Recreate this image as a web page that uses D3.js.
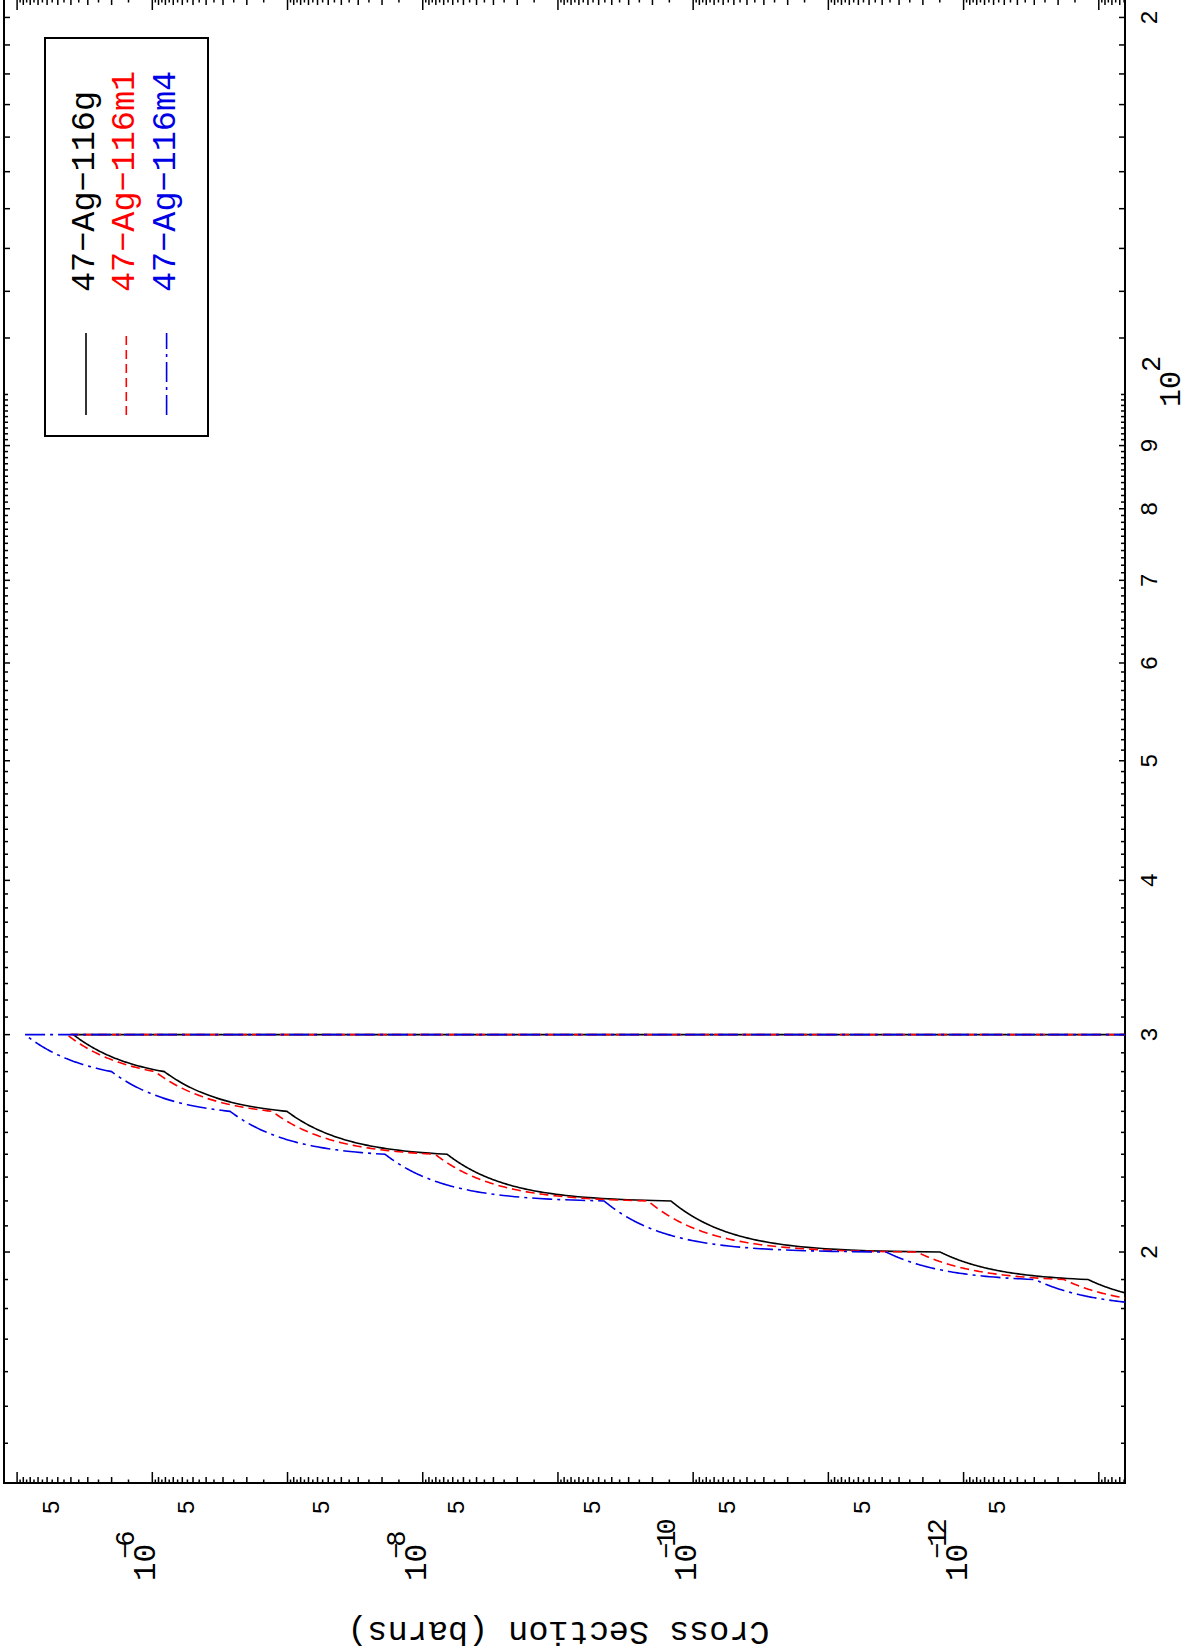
<!DOCTYPE html>
<html>
<head>
<meta charset="utf-8">
<script src="https://cdn.jsdelivr.net/npm/d3@7"></script>
<style>
  body { margin: 0; background: #fff; }
  svg { display: block; }
  text { font-family: "Liberation Mono", "DejaVu Sans Mono", monospace; }
</style>
</head>
<body>
<svg id="chart" width="1191" height="1651"></svg>
<script>
// tabulated nodes (MeV, barns); the plot joins them lin-lin on log axes
var energy  = [18, 19, 20, 22, 24, 26, 28, 30, 30];
var ag116g  = [0, 1.20e-13, 1.49e-12, 1.46e-10, 6.6e-9, 1.01e-7, 8.15e-7, 3.84e-6, 0];
var ag116m1 = [0, 1.81e-13, 2.21e-12, 2.16e-10, 8.1e-9, 1.30e-7, 9.55e-7, 4.28e-6, 0];
var ag116m4 = [0, 2.96e-13, 3.74e-12, 4.56e-10, 1.90e-8, 2.66e-7, 2.0e-6, 8.74e-6, 0];

var seriesNames  = ["47\u2212Ag\u2212116g", "47\u2212Ag\u2212116m1", "47\u2212Ag\u2212116m4"];
var seriesValues = [ag116g, ag116m1, ag116m4];
var seriesColors = ["#000000", "#ff0000", "#0000e6"];
var seriesDash   = [null, "9,5", "20,5,3,5"];

var energyTicks  = [20, 30, 40, 50, 60, 70, 80, 90, 200];
var energyLabels = ["2", "3", "4", "5", "6", "7", "8", "9", "2"];
var energyPower  = 100;          // drawn as 10^2
var sigmaPowers  = [1e-6, 1e-8, 1e-10, 1e-12];
var sigmaPowerLabels = ["\u22126", "\u22128", "\u221210", "\u221212"];
var sigmaFives   = [5e-6, 5e-7, 5e-8, 5e-9, 5e-10, 5e-11, 5e-12, 5e-13];

// the page is a landscape plot turned a quarter turn: draw it flat, then rotate
var W = 1651, H = 1191;
var svg = d3.select("#chart");
var g = svg.append("g").attr("transform", "translate(0," + W + ") rotate(-90)");

var x = d3.scaleLog().domain([13, 207]).range([168, 1652]);
var y = d3.scaleLog().domain([6.4e-14, 1.25e-5]).range([1125, 4]);
var x0 = x.range()[0], x1 = x.range()[1], y0 = y.range()[0], y1 = y.range()[1];

g.append("clipPath").attr("id", "plot")
  .append("rect").attr("x", x0).attr("y", y1).attr("width", x1 - x0).attr("height", y0 - y1);

// energy axis ticks: every unit below 100, every ten above
var eMinor = d3.range(14, 100).concat(d3.range(110, 210, 10)).filter(function (v) { return v < 207; });
function eLen(v) { return v === 100 ? 11 : (v % 10 === 0 ? 6 : 4); }
var tk = g.append("g").attr("stroke", "#000").attr("stroke-width", 1.5);
tk.selectAll(".eb").data(eMinor).enter().append("line")
  .attr("x1", function (d) { return x(d); }).attr("x2", function (d) { return x(d); })
  .attr("y1", y0).attr("y2", function (d) { return y0 - eLen(d); });
tk.selectAll(".et").data(eMinor).enter().append("line")
  .attr("x1", function (d) { return x(d); }).attr("x2", function (d) { return x(d); })
  .attr("y1", y1).attr("y2", function (d) { return y1 + eLen(d); });

// cross section ticks: decades, integers and halves
var sMinor = [];
d3.range(-14, -4).forEach(function (n) {
  d3.range(1, 10, 0.5).forEach(function (m) {
    var v = m * Math.pow(10, n);
    if (v > y.domain()[0] && v < y.domain()[1]) sMinor.push({ v: v, m: m });
  });
});
function sLen(d) { return d.m === 1 ? 11 : (d.m % 1 === 0 ? 6 : 3.5); }
tk.selectAll(".sl").data(sMinor).enter().append("line")
  .attr("y1", function (d) { return y(d.v); }).attr("y2", function (d) { return y(d.v); })
  .attr("x1", x0).attr("x2", function (d) { return x0 + sLen(d); });
tk.selectAll(".sr").data(sMinor).enter().append("line")
  .attr("y1", function (d) { return y(d.v); }).attr("y2", function (d) { return y(d.v); })
  .attr("x1", x1).attr("x2", function (d) { return x1 - sLen(d); });

// frame
g.append("rect").attr("x", x0).attr("y", y1).attr("width", x1 - x0).attr("height", y0 - y1)
  .attr("fill", "none").attr("stroke", "#000").attr("stroke-width", 2);

// energy labels
g.selectAll(".el").data(energyTicks).enter().append("text")
  .attr("x", function (d) { return x(d); }).attr("y", 1157)
  .attr("text-anchor", "middle").attr("font-size", 24)
  .text(function (d, i) { return energyLabels[i]; });
g.append("text").attr("x", x(energyPower)).attr("y", 1180).attr("text-anchor", "middle")
  .attr("font-size", 30).text("10");
g.append("text").attr("x", x(energyPower) + 17).attr("y", 1160).attr("font-size", 27).text("2");

// cross section labels
g.selectAll(".s5").data(sigmaFives).enter().append("text")
  .attr("x", 151).attr("y", function (d) { return y(d) + 1; })
  .attr("text-anchor", "end").attr("font-size", 24).text("5");
var pw = g.selectAll(".sp").data(sigmaPowers).enter().append("g");
pw.append("text").attr("x", 70).attr("y", function (d) { return y(d) + 3; })
  .attr("font-size", 31).text("10");
pw.append("text").attr("x", 92).attr("y", function (d) { return y(d) - 18; })
  .attr("font-size", 27).attr("letter-spacing", -4)
  .text(function (d, i) { return sigmaPowerLabels[i]; });

g.append("text").attr("transform", "translate(29," + ((y0 + y1) / 2 - 6) + ") rotate(-90)")
  .attr("text-anchor", "middle").attr("font-size", 33.5).text("Cross Section (barns)");

// curves: each node pair joined linearly in barns vs MeV
function linLin(xs, ys) {
  var p = d3.path(), steps = 80;
  var py = function (s) { return s > 0 ? y(s) : y0 + 400; };
  p.moveTo(x(xs[0]), py(ys[0]));
  for (var i = 1; i < xs.length; i++) {
    for (var k = 1; k <= steps; k++) {
      var t = k / steps;
      p.lineTo(x(xs[i - 1] + t * (xs[i] - xs[i - 1])), py(ys[i - 1] + t * (ys[i] - ys[i - 1])));
    }
  }
  return p.toString();
}
var lines = g.append("g").attr("clip-path", "url(#plot)");
seriesValues.forEach(function (vals, i) {
  lines.append("path").attr("d", linLin(energy, vals))
    .attr("fill", "none").attr("stroke", seriesColors[i]).attr("stroke-width", 1.6)
    .attr("stroke-dasharray", seriesDash[i]);
});

// legend
var lg = g.append("g");
lg.append("rect").attr("x", 1215).attr("y", 45).attr("width", 398).attr("height", 163)
  .attr("fill", "#fff").attr("stroke", "#000").attr("stroke-width", 2);
seriesNames.forEach(function (name, i) {
  var ly = 86 + i * 40.3;
  lg.append("line").attr("x1", 1236).attr("x2", 1318).attr("y1", ly).attr("y2", ly)
    .attr("stroke", seriesColors[i]).attr("stroke-width", 1.6).attr("stroke-dasharray", seriesDash[i]);
  lg.append("text").attr("x", 1359).attr("y", ly + 8).attr("font-size", 33.5)
    .attr("fill", seriesColors[i]).text(name);
});
</script>
</body>
</html>
